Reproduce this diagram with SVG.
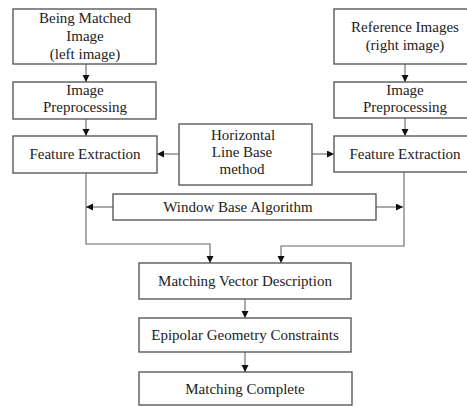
<svg xmlns="http://www.w3.org/2000/svg" width="467" height="407" viewBox="0 0 467 407">
  <style>
    .box { fill: #ffffff; stroke: #5a5a5a; stroke-width: 1.4; }
    .lbl { font-family: "Liberation Serif", "Times New Roman", "DejaVu Serif", serif; font-size: 15px; fill: #222222; text-anchor: middle; }
    .wire { fill: none; stroke: #666666; stroke-width: 1.1; }
  </style>
  <defs>
    <marker id="arrow" markerUnits="userSpaceOnUse" markerWidth="8" markerHeight="8" refX="7" refY="3.5" orient="auto">
      <path d="M0,0 L7,3.5 L0,7 z" fill="#111111"/>
    </marker>
  </defs>
  <rect width="467" height="407" fill="#ffffff"/>

  <g id="connectors">
    <line class="wire" x1="86" y1="64" x2="86" y2="82" marker-end="url(#arrow)"/>
    <line class="wire" x1="86" y1="119" x2="86" y2="136" marker-end="url(#arrow)"/>
    <line class="wire" x1="405" y1="64" x2="405" y2="82" marker-end="url(#arrow)"/>
    <line class="wire" x1="405" y1="118" x2="405" y2="136" marker-end="url(#arrow)"/>
    <line class="wire" x1="179" y1="154" x2="157" y2="154" marker-end="url(#arrow)"/>
    <line class="wire" x1="312" y1="154" x2="334" y2="154" marker-end="url(#arrow)"/>
    <polyline class="wire" points="86,173 86,244 210,244 210,263" marker-end="url(#arrow)"/>
    <polyline class="wire" points="404,172 404,246 281,246 281,263" marker-end="url(#arrow)"/>
    <line class="wire" x1="113" y1="207" x2="86" y2="207" marker-end="url(#arrow)"/>
    <line class="wire" x1="376" y1="207" x2="403" y2="207" marker-end="url(#arrow)"/>
    <line class="wire" x1="245" y1="299" x2="245" y2="318" marker-end="url(#arrow)"/>
    <line class="wire" x1="245" y1="352" x2="245" y2="372" marker-end="url(#arrow)"/>
  </g>

  <g id="left-image">
    <rect class="box" x="13" y="9" width="143" height="55"/>
    <text class="lbl" x="85" y="23">Being Matched</text>
    <text class="lbl" x="85" y="41">Image</text>
    <text class="lbl" x="85" y="59">(left image)</text>
  </g>
  <g id="left-preprocessing">
    <rect class="box" x="13" y="82" width="143" height="37"/>
    <text class="lbl" x="85" y="95">Image</text>
    <text class="lbl" x="85" y="112">Preprocessing</text>
  </g>
  <g id="left-feature">
    <rect class="box" x="13" y="136" width="144" height="37"/>
    <text class="lbl" x="85" y="159">Feature Extraction</text>
  </g>

  <g id="right-image">
    <rect class="box" x="334" y="9" width="143" height="55"/>
    <text class="lbl" x="405" y="32">Reference Images</text>
    <text class="lbl" x="405" y="50">(right image)</text>
  </g>
  <g id="right-preprocessing">
    <rect class="box" x="334" y="82" width="143" height="36"/>
    <text class="lbl" x="405" y="95">Image</text>
    <text class="lbl" x="405" y="112">Preprocessing</text>
  </g>
  <g id="right-feature">
    <rect class="box" x="334" y="136" width="143" height="36"/>
    <text class="lbl" x="405" y="159">Feature Extraction</text>
  </g>

  <g id="horizontal-line">
    <rect class="box" x="179" y="124" width="133" height="61"/>
    <text class="lbl" x="243" y="140">Horizontal</text>
    <text class="lbl" x="242" y="157">Line Base</text>
    <text class="lbl" x="242" y="174">method</text>
  </g>

  <g id="window-base">
    <rect class="box" x="113" y="194" width="263" height="26"/>
    <text class="lbl" x="238" y="212">Window Base Algorithm</text>
  </g>

  <g id="matching-vector">
    <rect class="box" x="139" y="263" width="212" height="36"/>
    <text class="lbl" x="245" y="286">Matching Vector Description</text>
  </g>
  <g id="epipolar">
    <rect class="box" x="139" y="318" width="212" height="34"/>
    <text class="lbl" x="245" y="340">Epipolar Geometry Constraints</text>
  </g>
  <g id="matching-complete">
    <rect class="box" x="139" y="372" width="213" height="33"/>
    <text class="lbl" x="245" y="394">Matching Complete</text>
  </g>
</svg>
